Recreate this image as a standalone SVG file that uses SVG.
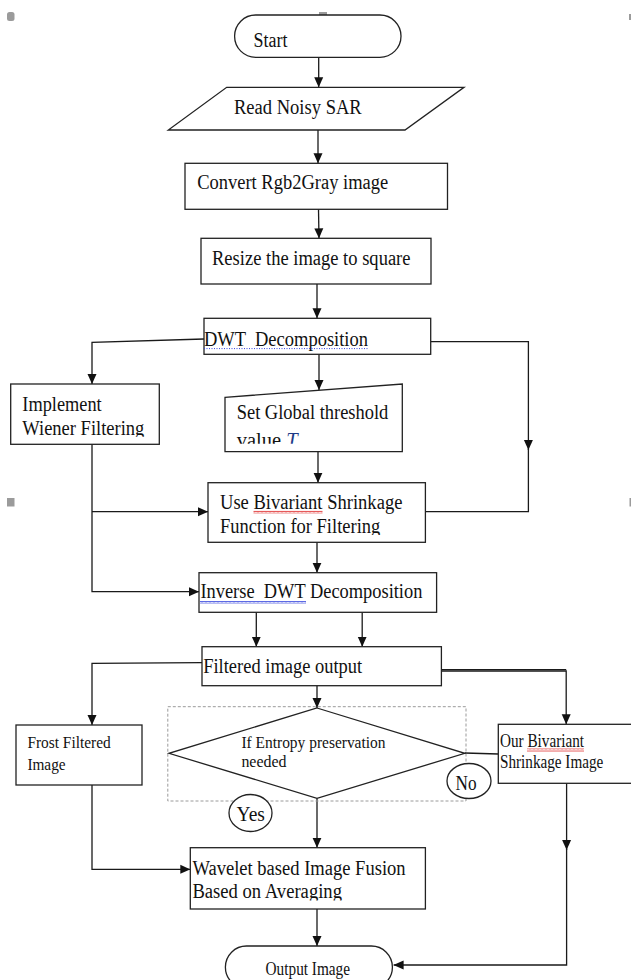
<svg xmlns="http://www.w3.org/2000/svg" width="631" height="980" viewBox="0 0 631 980">
  <style>
    .box { fill: #fff; stroke: #222; stroke-width: 1.3; }
    .dash { fill: none; stroke: #9a9a9a; stroke-width: 1; stroke-dasharray: 3 2; }
    .ln { fill: none; stroke: #1a1a1a; stroke-width: 1.3; }
    .arr { marker-end: url(#head); }
    .t { font-family: "Liberation Serif", "Times New Roman", serif; fill: #111; }
    .t19 { font-size: 20.5px; }
    .t17 { font-size: 18px; }
    .t16 { font-size: 17.5px; }
    .t15 { font-size: 16px; }
    .handle { fill: #9b9b9b; }
  </style>
  <defs>
    <marker id="head" markerUnits="userSpaceOnUse" markerWidth="10" markerHeight="10" refX="10" refY="5" orient="auto">
      <path d="M0,0.5 L10,5 L0,9.5 z" fill="#111"/>
    </marker>
    <pattern id="wavyRed" width="4" height="3" patternUnits="userSpaceOnUse">
      <path d="M0,2.5 L1,0.5 L2,2.5 L3,0.5 L4,2.5" fill="none" stroke="#e03030" stroke-width="0.8"/>
    </pattern>
    <pattern id="wavyBlue" width="4" height="3" patternUnits="userSpaceOnUse">
      <path d="M0,2.5 L1,0.5 L2,2.5 L3,0.5 L4,2.5" fill="none" stroke="#3344dd" stroke-width="0.8"/>
    </pattern>
    <clipPath id="clipImpl"><rect x="10" y="383" width="150" height="53.7"/></clipPath>
    <clipPath id="clipSet"><rect x="225" y="384" width="178" height="59.8"/></clipPath>
    <clipPath id="clipUse"><rect x="208" y="482" width="218" height="53"/></clipPath>
    <clipPath id="clipWave"><rect x="190" y="847" width="236" height="53.5"/></clipPath>
  </defs>

  <!-- page handles -->
  <g id="handles">
    <rect class="handle" x="7" y="12" width="7.5" height="9" rx="2.5"/>
    <rect class="handle" x="319" y="12" width="8" height="9"/>
    <rect class="handle" x="629" y="14" width="2" height="6"/>
    <rect class="handle" x="7" y="498" width="7.5" height="8.5"/>
    <rect class="handle" x="629.5" y="498" width="1.5" height="8.5"/>
  </g>

  <!-- connectors -->
  <g id="connectors">
    <path class="ln arr" d="M318.7,57.3 V87.3"/>
    <path class="ln arr" d="M318,130 V163.3"/>
    <path class="ln arr" d="M318.5,209.3 L319,238.3"/>
    <path class="ln arr" d="M317,284 V318.3"/>
    <path class="ln arr" d="M204,339 L92,342.3 V384"/>
    <path class="ln arr" d="M319,354.3 V390"/>
    <path class="ln arr" d="M430.7,341.7 H528.4 V450"/>
    <path class="ln" d="M528.4,449 V511.7 H425.4"/>
    <path class="ln arr" d="M318,451.7 V482.7"/>
    <path class="ln arr" d="M92,444.3 V591.7 H199"/>
    <path class="ln arr" d="M92,511.7 H208"/>
    <path class="ln arr" d="M317,542.3 V572.7"/>
    <path class="ln arr" d="M256.3,612.3 V646.7"/>
    <path class="ln arr" d="M362.2,612.3 V646.7"/>
    <path class="ln arr" d="M202,662.7 L92,663.3 V725"/>
    <path class="ln arr" d="M317,685.7 V708"/>
    <path class="ln" d="M437.8,669.6 H566.2" stroke-width="1"/>
    <path class="ln arr" d="M437.8,671 H566.2 V724.3"/>
    <path class="ln" d="M464.8,753 L498.3,754"/>
    <path class="ln arr" d="M317,798.3 V847.7"/>
    <path class="ln arr" d="M92,785 V869.3 H190.3"/>
    <path class="ln arr" d="M566.6,783.3 V850"/>
    <path class="ln arr" d="M566.6,849 V965 H393.6"/>
    <path class="ln arr" d="M317,909 V946"/>
  </g>

  <g id="start">
    <rect class="box" x="234.6" y="15" width="166.4" height="42.3" rx="21.1"/>
    <text class="t t19" x="253.5" y="46.5" textLength="34" lengthAdjust="spacingAndGlyphs">Start</text>
  </g>

  <g id="read-sar">
    <polygon class="box" points="226.7,87.3 464,87.3 405,130 168.3,130"/>
    <text class="t t19" x="234" y="114.3" textLength="127.7" lengthAdjust="spacingAndGlyphs">Read Noisy SAR</text>
  </g>

  <g id="convert">
    <rect class="box" x="185" y="163.3" width="262.5" height="46"/>
    <text class="t t19" x="197.2" y="189.3" textLength="191" lengthAdjust="spacingAndGlyphs">Convert Rgb2Gray image</text>
  </g>

  <g id="resize">
    <rect class="box" x="201" y="238.3" width="230" height="45.7"/>
    <text class="t t19" x="212" y="265" textLength="198.5" lengthAdjust="spacingAndGlyphs">Resize the image to square</text>
  </g>

  <g id="dwt">
    <rect class="box" x="204" y="318.3" width="226.7" height="36"/>
    <text class="t t19" x="204" y="346" textLength="164" lengthAdjust="spacingAndGlyphs" xml:space="preserve">DWT  Decomposition</text>
    <line x1="204" y1="348.6" x2="368" y2="348.6" stroke="#3344dd" stroke-width="1" stroke-dasharray="1 1.5"/>
  </g>

  <g id="wiener">
    <rect class="box" x="10.7" y="384" width="148.6" height="60.3"/>
    <g clip-path="url(#clipImpl)">
      <text class="t t19" x="22.3" y="410.7" textLength="79.4" lengthAdjust="spacingAndGlyphs">Implement</text>
      <text class="t t19" x="22.3" y="435" textLength="122" lengthAdjust="spacingAndGlyphs">Wiener Filtering</text>
    </g>
  </g>

  <g id="threshold">
    <polygon class="box" points="225,397.3 402.3,384 402.3,451.7 225,451.7"/>
    <g clip-path="url(#clipSet)">
      <text class="t t19" x="236.7" y="419.3" textLength="151.6" lengthAdjust="spacingAndGlyphs">Set Global threshold</text>
      <text class="t t19" x="236.7" y="447">value <tspan fill="#1f3c88" font-style="italic">T</tspan></text>
    </g>
  </g>

  <g id="shrinkage">
    <rect class="box" x="208" y="482.7" width="217.4" height="59.6"/>
    <g clip-path="url(#clipUse)">
      <text class="t t19" x="220" y="509.3" textLength="182.4" lengthAdjust="spacingAndGlyphs">Use Bivariant Shrinkage</text>
      <text class="t t19" x="220" y="533.3" textLength="160.3" lengthAdjust="spacingAndGlyphs">Function for Filtering</text>
    </g>
    <rect x="253.5" y="510.8" width="69" height="3" fill="url(#wavyRed)"/>
  </g>

  <g id="inverse-dwt">
    <rect class="box" x="199" y="572.7" width="237.6" height="39.6"/>
    <text class="t t19" x="200.4" y="598.3" textLength="222" lengthAdjust="spacingAndGlyphs" xml:space="preserve">Inverse  DWT Decomposition</text>
    <rect x="200" y="601" width="106" height="3" fill="url(#wavyBlue)"/>
  </g>

  <g id="filtered-output">
    <rect class="box" x="202" y="646.7" width="239.4" height="39"/>
    <text class="t t19" x="203.2" y="673.3" textLength="159" lengthAdjust="spacingAndGlyphs">Filtered image output</text>
  </g>

  <g id="frost">
    <rect class="box" x="16" y="725" width="126" height="60"/>
    <text class="t t16" x="27.4" y="748.3" textLength="83.3" lengthAdjust="spacingAndGlyphs">Frost Filtered</text>
    <text class="t t16" x="27.4" y="770" textLength="38.2" lengthAdjust="spacingAndGlyphs">Image</text>
  </g>

  <g id="entropy-decision">
    <rect class="dash" x="167.8" y="706.7" width="298.2" height="94.3"/>
    <polygon class="box" points="317,708 464.8,753.3 317,798.3 169,753.3"/>
    <text class="t t15" x="241.4" y="748" textLength="144.1" lengthAdjust="spacingAndGlyphs">If Entropy preservation</text>
    <text class="t t15" x="241.4" y="766.5" textLength="45.1" lengthAdjust="spacingAndGlyphs">needed</text>
  </g>

  <g id="label-no">
    <ellipse class="box" cx="469" cy="781" rx="22" ry="17.5" stroke-width="1.1"/>
    <text class="t t19" x="455.5" y="789.5" textLength="21" lengthAdjust="spacingAndGlyphs">No</text>
  </g>

  <g id="label-yes">
    <ellipse class="box" cx="250.5" cy="813" rx="21.5" ry="18.5" stroke-width="1.1"/>
    <text class="t t19" x="236.5" y="821" textLength="28.4" lengthAdjust="spacingAndGlyphs">Yes</text>
  </g>

  <g id="bivariant-image">
    <rect class="box" x="498.3" y="724.3" width="140" height="59"/>
    <text class="t t17" x="500" y="746.7" textLength="84" lengthAdjust="spacingAndGlyphs">Our Bivariant</text>
    <text class="t t17" x="500" y="768.3" textLength="103.3" lengthAdjust="spacingAndGlyphs">Shrinkage Image</text>
    <rect x="527" y="748.5" width="57" height="3" fill="url(#wavyRed)"/>
  </g>

  <g id="fusion">
    <rect class="box" x="190.3" y="847.7" width="235.1" height="61.3"/>
    <g clip-path="url(#clipWave)">
      <text class="t t19" x="192.4" y="875" textLength="213.2" lengthAdjust="spacingAndGlyphs">Wavelet based Image Fusion</text>
      <text class="t t19" x="192.4" y="898.3" textLength="149.6" lengthAdjust="spacingAndGlyphs">Based on Averaging</text>
    </g>
  </g>

  <g id="output">
    <rect class="box" x="225.4" y="946" width="167" height="42.3" rx="21.1"/>
    <text class="t t17" x="265.6" y="975" textLength="84.4" lengthAdjust="spacingAndGlyphs">Output Image</text>
  </g>
</svg>
